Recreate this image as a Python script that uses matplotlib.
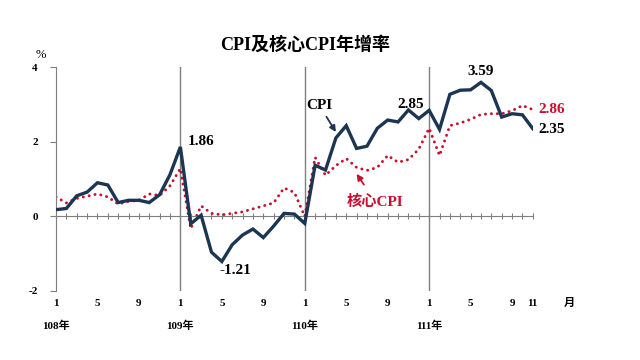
import matplotlib
matplotlib.use("Agg")
import matplotlib.pyplot as plt
import matplotlib.transforms as mtransforms

months = list(range(47))  # 108/1 .. 111/11
cpi = [0.18, 0.21, 0.55, 0.65, 0.90, 0.84, 0.37, 0.43, 0.43, 0.37, 0.58, 1.12,
       1.86, -0.20, 0.03, -0.96, -1.21, -0.76, -0.50, -0.34, -0.57, -0.26, 0.08, 0.06,
       -0.19, 1.37, 1.24, 2.10, 2.43, 1.82, 1.88, 2.36, 2.58, 2.53, 2.85, 2.62,
       2.84, 2.33, 3.27, 3.38, 3.39, 3.59, 3.37, 2.66, 2.75, 2.72, 2.35]
core = [0.52, 0.36, 0.48, 0.54, 0.60, 0.52, 0.33, 0.40, 0.43, 0.60, 0.56, 0.82,
        1.28, -0.33, 0.28, 0.08, 0.04, 0.08, 0.12, 0.20, 0.28, 0.36, 0.76, 0.64,
        0.00, 1.58, 1.10, 1.36, 1.55, 1.31, 1.23, 1.31, 1.63, 1.45, 1.52, 1.80,
        2.36, 1.63, 2.43, 2.50, 2.60, 2.73, 2.75, 2.75, 2.83, 2.97, 2.86]
xtick_pos = [0, 4, 8, 12, 16, 20, 24, 28, 32, 36, 40, 44, 46]
xtick_lab = ["1", "5", "9", "1", "5", "9", "1", "5", "9", "1", "5", "9", "11"]
year_pos = [0, 12, 24, 36]
year_lab = ["108年", "109年", "110年", "111年"]
yticks = [-2, 0, 2, 4]

NAVY = "#1C3552"
RED = "#C8102E"
FONT = ["Liberation Serif", "Noto Sans CJK TC", "DejaVu Sans"]
plt.rcParams["font.family"] = FONT

fig = plt.figure(figsize=(6.4, 3.6), dpi=100)
ax = fig.add_axes([0.0875, 0.1917, 0.745, 0.622])
ax.set_xlim(0, 46)
ax.set_ylim(-2, 4)

for yp in year_pos[1:]:
    ax.axvline(yp, color="#7F7F7F", lw=1.0, zorder=1)

ax.plot(months, cpi, color=NAVY, lw=2.4, zorder=3, solid_joinstyle="miter")
ax.plot(months, core, color=RED, lw=2.1, linestyle=(0, (0.05, 2.0)),
        dash_capstyle="round", zorder=2)

for s in ["top", "right"]:
    ax.spines[s].set_visible(False)
ax.spines["left"].set_color("#7F7F7F")
ax.spines["bottom"].set_color("#7F7F7F")
ax.spines["bottom"].set_position(("data", 0))
ax.set_xticks(months)
ax.tick_params(axis="x", direction="inout", length=5, width=0.8, color="#7F7F7F",
               labelbottom=False)
ax.set_yticks(yticks)
ax.set_yticklabels([str(v) for v in yticks], fontsize=8, fontweight="bold")
ax.tick_params(axis="y", direction="out", length=4, width=0.8, color="#7F7F7F", pad=9)

trans = mtransforms.blended_transform_factory(ax.transData, ax.transAxes)
for p, l in zip(xtick_pos, xtick_lab):
    ax.text(p, -0.055, l, transform=trans, ha="center", va="center",
            fontsize=8, fontweight="bold")
ax.text(49.5, -0.055, "月", transform=trans, ha="center", va="center",
        fontsize=8, fontweight="bold")
for p, l in zip(year_pos, year_lab):
    ax.text(p, -0.155, l, transform=trans, ha="center", va="center",
            fontsize=8, fontweight="bold")

ax.text(-0.02, 1.055, "%", transform=ax.transAxes, ha="right", va="center",
        fontsize=9)

fig.text(0.477, 0.875, "CPI及核心CPI年增率", ha="center", va="center",
         fontsize=13, fontweight="bold")

lab = dict(fontsize=11, fontweight="bold")
ax.annotate("1.86", xy=(12, cpi[12]), xytext=(12.7, 2.0), ha="left", va="center", **lab)
ax.annotate("-1.21", xy=(16, cpi[16]), xytext=(17.3, -1.45), ha="center", va="center", **lab)
ax.annotate("2.85", xy=(34, cpi[34]), xytext=(34.2, 3.0), ha="center", va="center", **lab)
ax.annotate("3.59", xy=(41, cpi[41]), xytext=(41.0, 3.88), ha="center", va="center", **lab)
ax.text(46.5, 2.86, "2.86", color=RED, ha="left", va="center", **lab)
ax.text(46.5, 2.33, "2.35", color="black", ha="left", va="center", **lab)

ax.annotate("CPI", xy=(27.0, 2.26), xytext=(25.4, 2.98), ha="center", va="center",
            arrowprops=dict(arrowstyle="-|>", color=NAVY, lw=1.3, mutation_scale=9,
                            shrinkA=2, shrinkB=0), **lab)
ax.annotate("核心CPI", xy=(29.0, 1.14), xytext=(30.8, 0.4), ha="center", va="center",
            color=RED,
            arrowprops=dict(arrowstyle="-|>", color=RED, lw=1.3, mutation_scale=9,
                            shrinkA=6, shrinkB=0), **lab)

fig.savefig("out.png", dpi=100)
